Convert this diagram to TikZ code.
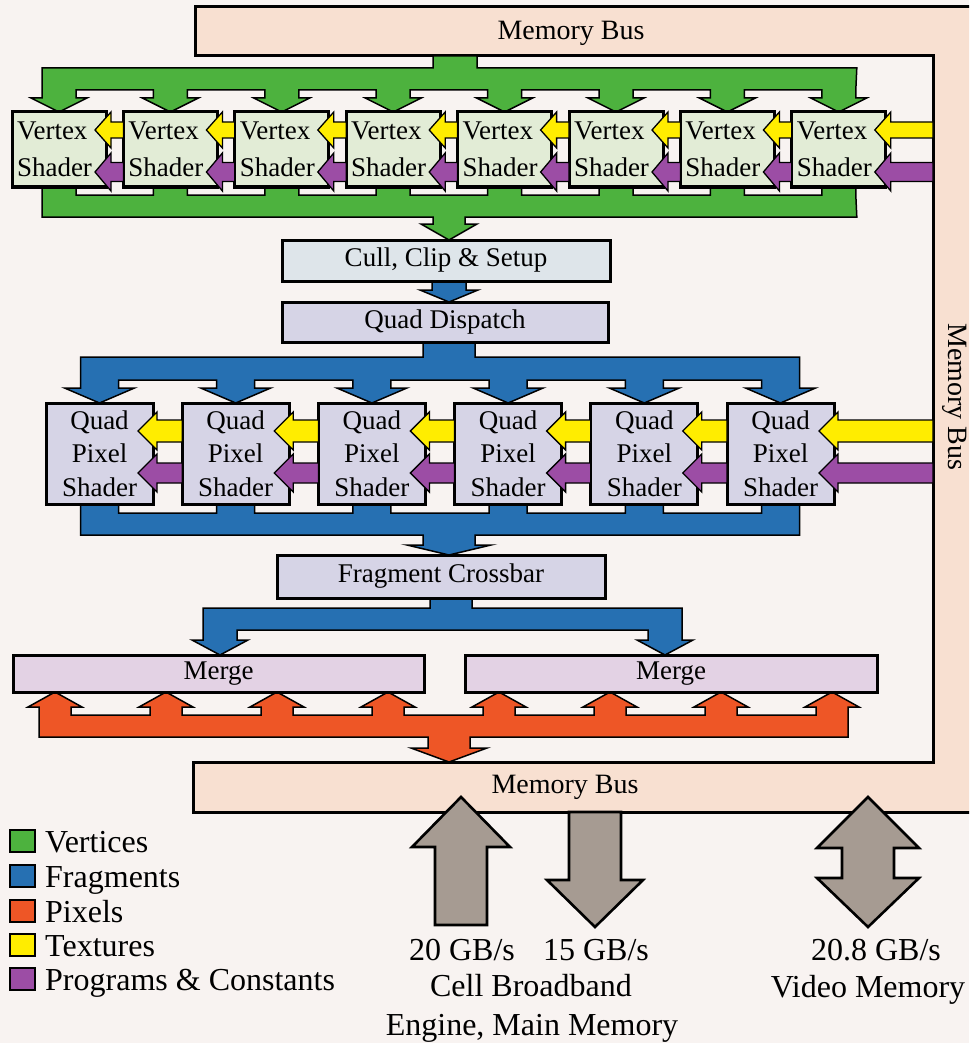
\documentclass[tikz,border=0pt]{standalone}
\usepackage{fontspec}
\setmainfont{Liberation Serif}
\definecolor{pagebg}{RGB}{248,243,241}
\definecolor{buspeach}{RGB}{248,224,209}
\definecolor{vgreen}{RGB}{77,178,62}
\definecolor{fblue}{RGB}{38,112,178}
\definecolor{porange}{RGB}{238,86,38}
\definecolor{tyellow}{RGB}{255,237,0}
\definecolor{ppurple}{RGB}{156,77,165}
\definecolor{vsfill}{RGB}{226,236,214}
\definecolor{cullfill}{RGB}{222,229,234}
\definecolor{quadfill}{RGB}{214,212,230}
\definecolor{mergefill}{RGB}{227,210,228}
\definecolor{memgray}{RGB}{166,155,146}
\newcommand\boxfont{\fontsize{27}{37}\selectfont}
\newcommand\quadfont{\fontsize{27}{33.5}\selectfont}
\newcommand\busfont{\fontsize{28}{32}\selectfont}
\newcommand\bigfont{\fontsize{32}{36}\selectfont}
% left-pointing feed arrow: style, tip x, head base x, tail x, centre y, stem half, head half
\newcommand\leftfeed[7]{%
  \draw[#1] (#4,{#5-#6}) -- (#3,{#5-#6}) -- (#3,{#5-#7}) -- (#2,#5)
    -- (#3,{#5+#7}) -- (#3,{#5+#6}) -- (#4,{#5+#6}) -- cycle;}
\begin{document}
\begin{tikzpicture}[x=1pt,y=-1pt,
  busline/.style={draw=black,line width=1.5pt,line join=miter},
  feed/.style={draw=black,line width=1.3pt,line join=miter},
  memarrow/.style={draw=black,line width=2.6pt,line join=miter,fill=memgray},
  stagebox/.style={draw=black,line width=3pt,inner sep=0pt,font=\boxfont},
  vsbox/.style={stagebox,fill=vsfill,text width=84pt,inner xsep=5pt,
    inner ysep=0pt,minimum height=75pt,align=left},
  qpsbox/.style={stagebox,fill=quadfill,font=\quadfont,minimum width=107pt,
    minimum height=101pt,align=center},
  buslabel/.style={font=\busfont,inner sep=0pt},
  biglabel/.style={font=\bigfont,inner sep=0pt}]
\clip (0,0) rectangle (969,1043);
\fill[pagebg] (0,0) rectangle (969,1043);

% memory bus frame
\draw[fill=buspeach,line width=3pt] (195,7) -- (990,7) -- (990,812) -- (193,812)
  -- (193,762) -- (933,762) -- (933,56) -- (195,56) -- cycle;
\node[buslabel,anchor=base] (mbtop) at (571,40) {Memory Bus};
\node[buslabel,rotate=-90] (mbright) at (955,397) {Memory Bus};
\node[buslabel,anchor=base] (mbbottom) at (565,793) {Memory Bus};

% vertex bus: distribution to the vertex shaders
\draw[busline,fill=vgreen] (42,68) -- (433,68) -- (433,56) -- (477,56) -- (477,68) -- (856.8,68)
  foreach \i in {7,6,...,0}{ -- ({59+111.4*\i+17},90) -- ({59+111.4*\i+17},98)
    -- ({59+111.4*\i+28},98) -- ({59+111.4*\i},112) -- ({59+111.4*\i-28},98)
    -- ({59+111.4*\i-17},98) -- ({59+111.4*\i-17},90)} -- cycle;
% vertex bus: collection into cull/clip/setup
\draw[busline,fill=vgreen] (42,217)
  foreach \i in {0,...,7}{ -- ({59+111.4*\i-17},195) -- ({59+111.4*\i-17},187)
    -- ({59+111.4*\i+17},187) -- ({59+111.4*\i+17},195)}
  -- (856.8,217) -- (465,217) -- (465,224) -- (477,224) -- (449,240)
  -- (421,224) -- (433,224) -- (433,217) -- cycle;

% cull/clip/setup to quad dispatch
\draw[busline,fill=fblue] (432,281) -- (466,281) -- (466,290) -- (478,290) -- (449,302)
  -- (420,290) -- (432,290) -- cycle;

% fragment bus: distribution to the quad pixel shaders
\draw[busline,fill=fblue] (80.5,357) -- (423,357) -- (423,342) -- (475,342) -- (475,357) -- (799.5,357)
  foreach \i in {5,4,...,0}{ -- ({99.5+136.2*\i+19},380) -- ({99.5+136.2*\i+19},388)
    -- ({99.5+136.2*\i+35},388) -- ({99.5+136.2*\i},403) -- ({99.5+136.2*\i-35},388)
    -- ({99.5+136.2*\i-19},388) -- ({99.5+136.2*\i-19},380)} -- cycle;
% fragment bus: collection into the crossbar
\draw[busline,fill=fblue] (80.5,535)
  foreach \i in {0,...,5}{ -- ({99.5+136.2*\i-19},513) -- ({99.5+136.2*\i-19},504)
    -- ({99.5+136.2*\i+19},504) -- ({99.5+136.2*\i+19},513)}
  -- (799.5,535) -- (475,535) -- (475,545) -- (491,545) -- (449,555)
  -- (407,545) -- (423,545) -- (423,535) -- cycle;

% crossbar to the two merge units
\draw[busline,fill=fblue] (430,598) -- (472,598) -- (472,608) -- (682,608) -- (682,640)
  -- (693,640) -- (665,655) -- (637,640) -- (648,640) -- (648,630) -- (237,630)
  -- (237,640) -- (248,640) -- (220,655) -- (192,640) -- (203,640) -- (203,608)
  -- (430,608) -- cycle;

% pixel bus: merge units and memory
\draw[busline,fill=porange] (39,737)
  foreach \i in {0,...,7}{ -- ({55+111*\i-16},715) -- ({55+111*\i-16},707)
    -- ({55+111*\i-27},707) -- ({55+111*\i},692) -- ({55+111*\i+27},707)
    -- ({55+111*\i+16},707) -- ({55+111*\i+16},715)}
  -- (848,737) -- (470,737) -- (470,748) -- (487,748) -- (449,762)
  -- (411,748) -- (428,748) -- (428,737) -- cycle;

% pipeline stages
\foreach \i in {0,...,7}
  \node[vsbox] (vs\i) at ({59+111.4*\i},149.5) {Vertex\\Shader};
\node[stagebox,fill=cullfill,minimum width=328pt,minimum height=41pt] (cull) at (446,260.5) {Cull, Clip \& Setup};
\node[stagebox,fill=quadfill,minimum width=326pt,minimum height=40pt] (qd) at (445,322) {Quad Dispatch};
\foreach \i in {0,...,5}
  \node[qpsbox] (qps\i) at ({99.5+136.2*\i},453.5) {Quad\\Pixel\\Shader};
\node[stagebox,fill=quadfill,minimum width=328pt,minimum height=43pt] (fx) at (441,576.5) {Fragment Crossbar};
\node[stagebox,fill=mergefill,minimum width=411pt,minimum height=37pt] (mergeL) at (218.5,673.5) {Merge};
\node[stagebox,fill=mergefill,minimum width=412pt,minimum height=37pt] (mergeR) at (671,673.5) {Merge};

% texture and program feeds along the vertex shader row
\foreach \i in {0,...,7}{
  \pgfmathsetmacro\rx{106+111.4*\i}
  \pgfmathsetmacro\tx{\i<7 ? \rx+17.4 : 933}
  \leftfeed{feed,fill=tyellow}{\rx-11}{\rx+5}{\tx}{130}{8}{18}
  \leftfeed{feed,fill=ppurple}{\rx-11}{\rx+5}{\tx}{172}{9.5}{19}
}
% texture and program feeds along the pixel shader row
\foreach \i in {0,...,5}{
  \pgfmathsetmacro\rx{153+136.2*\i}
  \pgfmathsetmacro\tx{\i<5 ? \rx+29.2 : 933}
  \leftfeed{feed,fill=tyellow}{\rx-15}{\rx+4}{\tx}{431}{11}{19}
  \leftfeed{feed,fill=ppurple}{\rx-15}{\rx+4}{\tx}{473}{10}{19}
}

% external memory links
\draw[memarrow] (435,925) -- (435,847) -- (412,847) -- (461,797) -- (510,847)
  -- (487,847) -- (487,925) -- cycle;
\draw[memarrow] (569,812) -- (621,812) -- (621,880) -- (643,880) -- (595,927)
  -- (547,880) -- (569,880) -- cycle;
\draw[memarrow] (868,797) -- (919,848) -- (894,848) -- (894,878) -- (919,878)
  -- (868,927) -- (817,878) -- (842,878) -- (842,848) -- (817,848) -- cycle;

\node[biglabel,anchor=base] (bw20) at (462,960) {20 GB/s};
\node[biglabel,anchor=base] (bw15) at (596,960) {15 GB/s};
\node[biglabel,anchor=base] (cell1) at (531,996) {Cell Broadband};
\node[biglabel,anchor=base] (cell2) at (532,1035) {Engine, Main Memory};
\node[biglabel,anchor=base] (bw208) at (876,960) {20.8 GB/s};
\node[biglabel,anchor=base] (vmem) at (868,997) {Video Memory};

% legend
\foreach \txt/\col/\yy [count=\k] in {Vertices/vgreen/852,Fragments/fblue/887,
    Pixels/porange/922,Textures/tyellow/956,Programs \& Constants/ppurple/990}{
  \draw[fill=\col,draw=black,line width=1.8pt] (10,\yy-22) rectangle (35,\yy);
  \node[biglabel,anchor=base west] (legend\k) at (45,\yy) {\txt};
}
\end{tikzpicture}
\end{document}
